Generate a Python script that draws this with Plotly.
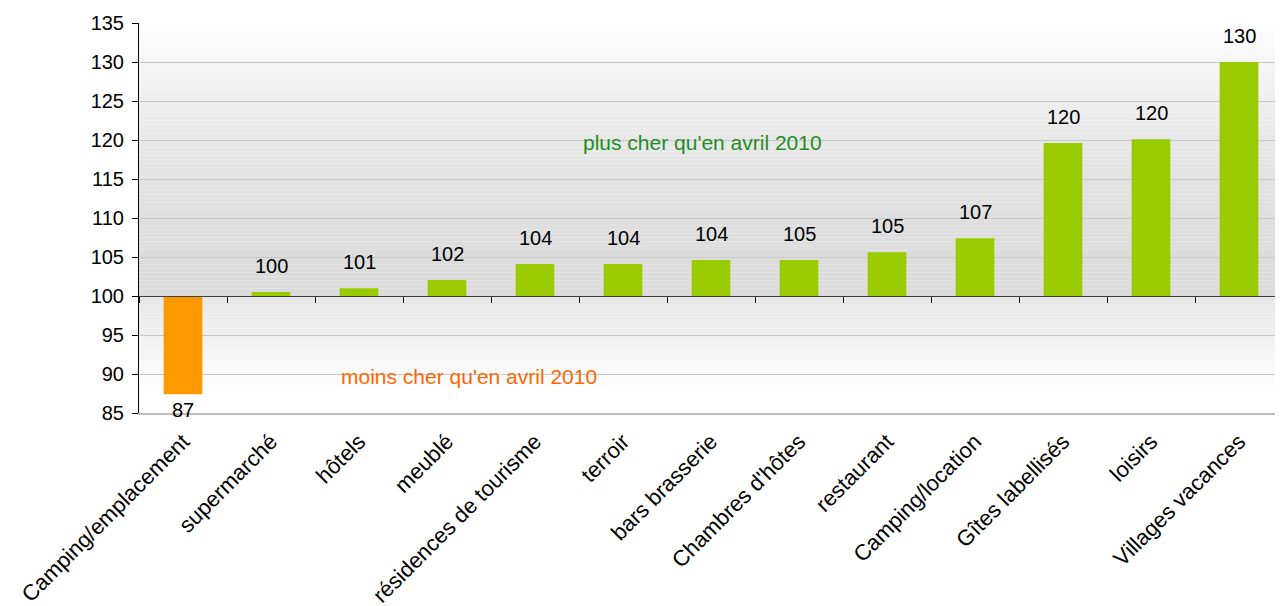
import plotly.graph_objects as go

# ---- data ----
categories = ["Camping/emplacement", "supermarché", "hôtels", "meublé",
              "résidences de tourisme", "terroir", "bars brasserie",
              "Chambres d'hôtes", "restaurant", "Camping/location",
              "Gîtes labellisés", "loisirs", "Villages vacances"]
values = [87.4, 100.5, 101.0, 102.05, 104.1, 104.1, 104.6, 104.6, 105.6, 107.4, 119.6, 120.1, 130.0]
value_labels = ["87", "100", "101", "102", "104", "104", "104", "105", "105", "107", "120", "120", "130"]
base_value = 100
y_min, y_max = 85, 135
y_ticks = [85, 90, 95, 100, 105, 110, 115, 120, 125, 130, 135]
note_up = "plus cher qu'en avril 2010"
note_down = "moins cher qu'en avril 2010"

GREEN = "#99cc00"
ORANGE = "#ff9900"
FONT = "Liberation Sans, Arial, sans-serif"
FS = 20

bar_colors = [ORANGE if v < base_value else GREEN for v in values]

fig = go.Figure()
fig.add_trace(go.Bar(
    x=categories, y=[v - base_value for v in values], base=base_value,
    marker=dict(color=bar_colors, line=dict(width=0)), width=0.44,
    hoverinfo="skip", showlegend=False))

# invisible trace to carry the axis crossing at 100
fig.add_trace(go.Bar(x=categories, y=[0] * len(categories), base=base_value,
                     xaxis="x2", yaxis="y", marker=dict(opacity=0),
                     hoverinfo="skip", showlegend=False))

# background gradient (strips)
shapes = []
n_up = 70
for i in range(n_up):
    y0 = base_value + (y_max - base_value) * i / n_up
    y1 = base_value + (y_max - base_value) * (i + 1) / n_up
    t = (i + 0.5) / n_up
    c = int(round(219 + (254 - 219) * t ** 1.8))
    shapes.append(dict(type="rect", xref="paper", yref="y", x0=0, x1=1, y0=y0, y1=y1,
                       fillcolor=f"rgb({c},{c},{c})", line=dict(width=0), layer="below"))
n_dn = 40
for i in range(n_dn):
    y1 = base_value - (base_value - y_min) * i / n_dn
    y0 = base_value - (base_value - y_min) * (i + 1) / n_dn
    t = (i + 0.5) / n_dn
    c = int(round(min(255, 230 + (255 - 230) * t * 1.2)))
    shapes.append(dict(type="rect", xref="paper", yref="y", x0=0, x1=1, y0=y0, y1=y1,
                       fillcolor=f"rgb({c},{c},{c})", line=dict(width=0), layer="below"))

annotations = []
for cat, v, lab in zip(categories, values, value_labels):
    if v >= base_value:
        annotations.append(dict(x=cat, y=v, text=lab, showarrow=False, yanchor="bottom",
                                yshift=13, font=dict(family=FONT, size=FS, color="#000000")))
    else:
        annotations.append(dict(x=cat, y=v, text=lab, showarrow=False, yanchor="top",
                                yshift=-3, font=dict(family=FONT, size=FS, color="#000000")))
annotations.append(dict(xref="paper", yref="y", x=0.493, y=119.7, text=note_up, showarrow=False,
                        xanchor="center", font=dict(family=FONT, size=21, color="#1f8f1f")))
annotations.append(dict(xref="paper", yref="y", x=0.2885, y=89.7, text=note_down, showarrow=False,
                        xanchor="center", font=dict(family=FONT, size=21, color="#ff6600")))

cross = (base_value - y_min) / (y_max - y_min)

fig.update_layout(
    width=1283, height=606,
    margin=dict(l=131, r=8, t=15, b=201, autoexpand=False),
    paper_bgcolor="white", plot_bgcolor="white",
    bargap=0.55, barmode="overlay",
    font=dict(family=FONT, size=FS, color="#000000"),
    shapes=shapes, annotations=annotations,
    xaxis=dict(type="category", tickangle=-45, showline=True, linecolor="#bdbdbd", linewidth=2,
               ticks="", showgrid=False, tickfont=dict(family=FONT, size=22, color="#000"),
               ticklabelstandoff=5,
               automargin=False, range=[-0.5, len(categories) - 0.5]),
    xaxis2=dict(type="category", overlaying="x", anchor="free", position=cross, side="bottom",
                showline=True, linecolor="#404040", linewidth=1, ticks="outside", tickson="boundaries",
                ticklen=6, tickcolor="#000000", showticklabels=False, showgrid=False,
                range=[-0.5, len(categories) - 0.5]),
    yaxis=dict(range=[y_min, y_max], tickvals=y_ticks, showline=True, linecolor="#000000", linewidth=1,
               ticks="outside", ticklen=6, tickcolor="#000000", showgrid=True, gridcolor="#c8c8c8",
               gridwidth=1, zeroline=False, tickfont=dict(family=FONT, size=20, color="#000"),
               ticklabelstandoff=4, automargin=False),
)

fig.write_html("out.html")
